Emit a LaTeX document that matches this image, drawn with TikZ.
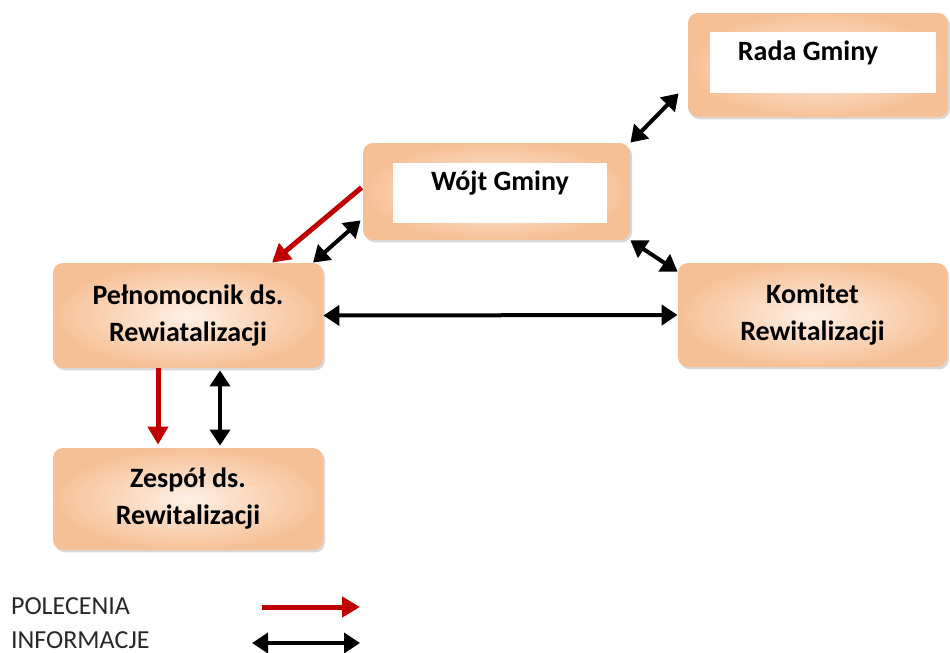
\documentclass[tikz,border=0pt]{standalone}
\usepackage{fontspec}
\setmainfont{Carlito}
\usetikzlibrary{arrows.meta,shadows,calc}
\definecolor{boxlight}{RGB}{254,240,229}
\definecolor{boxdark}{RGB}{246,192,150}
\definecolor{polred}{RGB}{192,0,0}
\definecolor{legendgray}{RGB}{40,40,40}
\tikzset{
  box/.style={rectangle, rounded corners=5pt, inner color=boxlight, outer color=boxdark,
    drop shadow={opacity=0.3, shadow xshift=1pt, shadow yshift=-1.2pt},
    font=\fontsize{14}{18.5}\selectfont\bfseries, align=center, text=black},
  pole/.style={rectangle, fill=white, inner sep=0pt},
  polecenie/.style={-{Triangle[length=9pt,width=10pt]}, line width=2.5pt, polred},
  informacja/.style={{Triangle[length=8pt,width=10pt]}-{Triangle[length=8pt,width=10pt]}, line width=2pt, black},
  legenda/.style={anchor=west, font=\fontsize{13}{15}\selectfont, text=legendgray},
}
\begin{document}
\begin{tikzpicture}[x=0.5pt, y=-0.5pt]
    \useasboundingbox (0,0) rectangle (950,653);

    % 绘制方框
    \node[box, minimum width=130pt, minimum height=52pt] (rada) at (818,65) {};
    \node[box, minimum width=133.5pt, minimum height=48.5pt] (wojt) at (496.5,191.5) {};
    \node[box, minimum width=135pt, minimum height=52.5pt] (peln) at (188,315.5) {Pełnomocnik ds.\\Rewiatalizacji};
    \node[box, minimum width=134.5pt, minimum height=52pt] (komitet) at (812.5,315) {Komitet\\Rewitalizacji};
    \node[box, minimum width=135pt, minimum height=51pt] (zespol) at (188,499) {Zespół ds.\\Rewitalizacji};

    % 白色文本框
    \node[pole, minimum width=113pt, minimum height=30.5pt] (radapole) at (823,62.5) {};
    \node[pole, minimum width=107pt, minimum height=30pt] (wojtpole) at (500,193) {};
    \node[font=\fontsize{14}{15}\selectfont\bfseries] (radatxt) at (808,53) {Rada Gminy};
    \node[font=\fontsize{14}{15}\selectfont\bfseries] (wojttxt) at (500,183) {Wójt Gminy};

    % 绘制箭头
    \draw[polecenie] ($(wojt.west)+(-1,-4)$) -- ($(peln.north)+(84,0)$);
    \draw[informacja] ($(peln.north)+(125,0)$) -- ($(wojt.south west)+(-2,-20)$);
    \draw[informacja] ($(rada.south west)+(-9,-24)$) -- (wojt.north east);
    \draw[informacja] (wojt.south east) -- ($(komitet.north west)+(0,9)$);
    \draw[informacja] (peln.east) -- (komitet.west);
    \draw[polecenie] ($(peln.south)+(-30,0)$) -- ($(zespol.north)+(-30,-3)$);
    \draw[informacja] ($(peln.south)+(32,2)$) -- ($(zespol.north)+(32,-2)$);

    % 图例
    \node[legenda] (polecenia) at (4,606) {POLECENIA};
    \node[legenda] (informacje) at (4,640) {INFORMACJE};
    \coordinate (polA) at (262,607);
    \coordinate (polB) at (360,607);
    \coordinate (infA) at (252,643);
    \coordinate (infB) at (360,643);
    \draw[polecenie] (polA) -- (polB);
    \draw[informacja] (infA) -- (infB);

\end{tikzpicture}
\end{document}
